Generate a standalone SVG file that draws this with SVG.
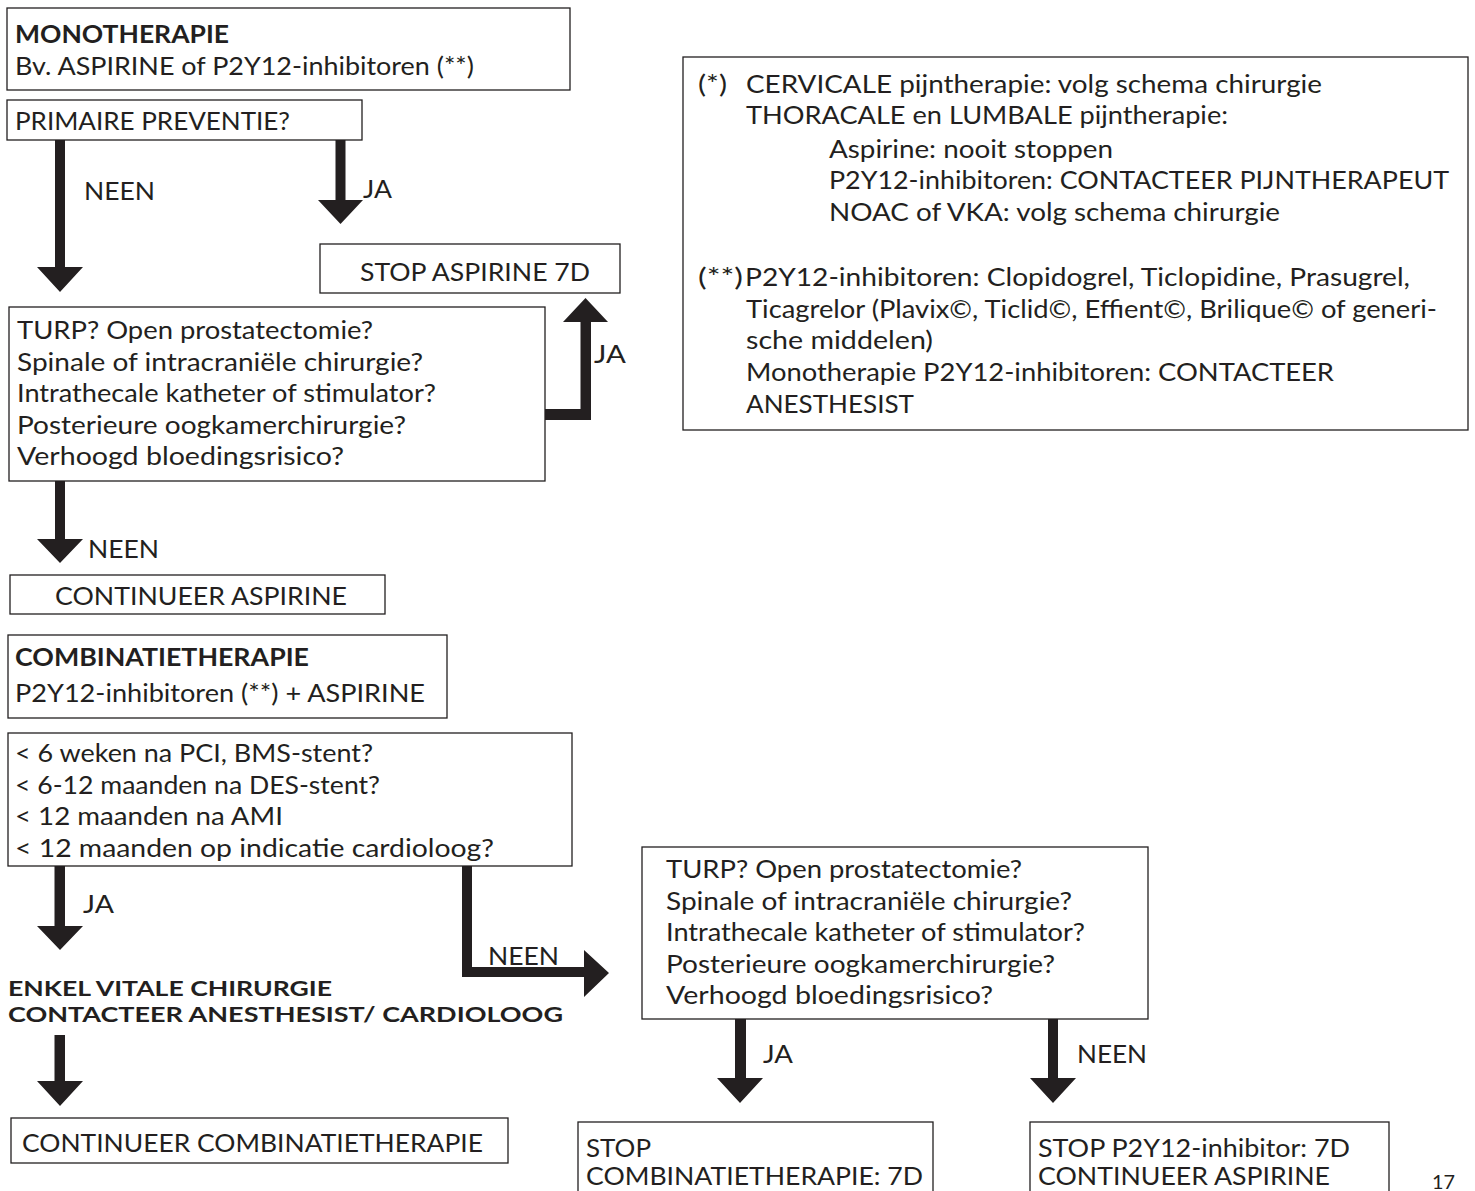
<svg xmlns="http://www.w3.org/2000/svg" width="1475" height="1191" viewBox="0 0 1475 1191">
<style>
.box{fill:#fff;stroke:#231f20;stroke-width:1.3}
.t{font-family:Lato,"Noto Sans","DejaVu Sans",sans-serif;font-size:25px;fill:#231f20}
.b{font-weight:700}
.s{font-size:21px}
.ar{fill:#231f20}
</style>
<rect x="0" y="0" width="1475" height="1191" fill="#fff"/>
<g id="connectors">
<polygon class="ar" points="55,140 65,140 65,267 83,267 60,292 37,267 55,267"/>
<polygon class="ar" points="335.5,140 345.5,140 345.5,200 363,200 340.5,224 318,200 335.5,200"/>
<polygon class="ar" points="545,409 580.5,409 580.5,322 563,322 585.5,298 608,322 591,322 591,420 545,420"/>
<polygon class="ar" points="55,481 65,481 65,539 83,539 60,563 37,539 55,539"/>
<polygon class="ar" points="54.5,866 65,866 65,926 83,926 60,950 37,926 54.5,926"/>
<polygon class="ar" points="462,866 472,866 472,967 584,967 584,950 609,973 584,997 584,977 462,977"/>
<polygon class="ar" points="54.5,1035 65,1035 65,1081 83,1081 60,1106 37,1081 54.5,1081"/>
<polygon class="ar" points="735,1019 746,1019 746,1078 763,1078 740,1103 717,1078 735,1078"/>
<polygon class="ar" points="1048,1019 1058,1019 1058,1078 1076,1078 1053,1103 1030,1078 1048,1078"/>
<text class="t" x="84" y="200" textLength="71" lengthAdjust="spacingAndGlyphs">NEEN</text>
<text class="t" x="363" y="198" textLength="29" lengthAdjust="spacingAndGlyphs">JA</text>
<text class="t" x="594" y="363" textLength="32" lengthAdjust="spacingAndGlyphs">JA</text>
<text class="t" x="88" y="558" textLength="71" lengthAdjust="spacingAndGlyphs">NEEN</text>
<text class="t" x="83" y="913" textLength="31" lengthAdjust="spacingAndGlyphs">JA</text>
<text class="t" x="488" y="965" textLength="71" lengthAdjust="spacingAndGlyphs">NEEN</text>
<text class="t" x="763" y="1063" textLength="30" lengthAdjust="spacingAndGlyphs">JA</text>
<text class="t" x="1077" y="1063" textLength="70" lengthAdjust="spacingAndGlyphs">NEEN</text>
</g>
<g id="monotherapie">
<rect class="box" x="7" y="8" width="563" height="82"/>
<text class="t b" x="15" y="43" textLength="214" lengthAdjust="spacingAndGlyphs">MONOTHERAPIE</text>
<text class="t" x="15" y="75" textLength="459" lengthAdjust="spacingAndGlyphs">Bv. ASPIRINE of P2Y12-inhibitoren (**)</text>
</g>
<g id="primaire">
<rect class="box" x="7" y="100" width="355" height="40"/>
<text class="t" x="15" y="130" textLength="275" lengthAdjust="spacingAndGlyphs">PRIMAIRE PREVENTIE?</text>
</g>
<g id="stop-aspirine">
<rect class="box" x="320" y="244" width="300" height="49"/>
<text class="t" x="360" y="281" textLength="230" lengthAdjust="spacingAndGlyphs">STOP ASPIRINE 7D</text>
</g>
<g id="turp1">
<rect class="box" x="9" y="307" width="536" height="174"/>
<text class="t" x="17" y="339" textLength="356" lengthAdjust="spacingAndGlyphs">TURP? Open prostatectomie?</text>
<text class="t" x="17" y="370.5" textLength="406" lengthAdjust="spacingAndGlyphs">Spinale of intracraniële chirurgie?</text>
<text class="t" x="17" y="402" textLength="419" lengthAdjust="spacingAndGlyphs">Intrathecale katheter of stimulator?</text>
<text class="t" x="17" y="433.5" textLength="389" lengthAdjust="spacingAndGlyphs">Posterieure oogkamerchirurgie?</text>
<text class="t" x="17" y="465" textLength="327" lengthAdjust="spacingAndGlyphs">Verhoogd bloedingsrisico?</text>
</g>
<g id="continueer-aspirine">
<rect class="box" x="10" y="575" width="375" height="39"/>
<text class="t" x="55" y="605" textLength="292" lengthAdjust="spacingAndGlyphs">CONTINUEER ASPIRINE</text>
</g>
<g id="combinatietherapie">
<rect class="box" x="8" y="635" width="439" height="83"/>
<text class="t b" x="15" y="666" textLength="294" lengthAdjust="spacingAndGlyphs">COMBINATIETHERAPIE</text>
<text class="t" x="15" y="702" textLength="410" lengthAdjust="spacingAndGlyphs">P2Y12-inhibitoren (**) + ASPIRINE</text>
</g>
<g id="condities">
<rect class="box" x="8" y="733" width="564" height="133"/>
<text class="t" x="15" y="762" textLength="358" lengthAdjust="spacingAndGlyphs">&lt; 6 weken na PCI, BMS-stent?</text>
<text class="t" x="15" y="793.5" textLength="365" lengthAdjust="spacingAndGlyphs">&lt; 6-12 maanden na DES-stent?</text>
<text class="t" x="15" y="825" textLength="268" lengthAdjust="spacingAndGlyphs">&lt; 12 maanden na AMI</text>
<text class="t" x="15" y="856.5" textLength="479" lengthAdjust="spacingAndGlyphs">&lt; 12 maanden op indicatie cardioloog?</text>
</g>
<g id="enkel-vitale">
<text class="t b s" x="8" y="996" textLength="324" lengthAdjust="spacingAndGlyphs">ENKEL VITALE CHIRURGIE</text>
<text class="t b s" x="8" y="1022" textLength="555" lengthAdjust="spacingAndGlyphs">CONTACTEER ANESTHESIST/ CARDIOLOOG</text>
</g>
<g id="turp2">
<rect class="box" x="642" y="847" width="506" height="172"/>
<text class="t" x="666" y="878" textLength="356" lengthAdjust="spacingAndGlyphs">TURP? Open prostatectomie?</text>
<text class="t" x="666" y="909.5" textLength="406" lengthAdjust="spacingAndGlyphs">Spinale of intracraniële chirurgie?</text>
<text class="t" x="666" y="941" textLength="419" lengthAdjust="spacingAndGlyphs">Intrathecale katheter of stimulator?</text>
<text class="t" x="666" y="972.5" textLength="389" lengthAdjust="spacingAndGlyphs">Posterieure oogkamerchirurgie?</text>
<text class="t" x="666" y="1004" textLength="327" lengthAdjust="spacingAndGlyphs">Verhoogd bloedingsrisico?</text>
</g>
<g id="continueer-combinatie">
<rect class="box" x="11" y="1118" width="497" height="45"/>
<text class="t" x="22" y="1152" textLength="461" lengthAdjust="spacingAndGlyphs">CONTINUEER COMBINATIETHERAPIE</text>
</g>
<g id="stop-combinatie">
<rect class="box" x="578" y="1122" width="355" height="90"/>
<text class="t" x="586" y="1157" textLength="65" lengthAdjust="spacingAndGlyphs">STOP</text>
<text class="t" x="586" y="1185" textLength="337" lengthAdjust="spacingAndGlyphs">COMBINATIETHERAPIE: 7D</text>
</g>
<g id="stop-p2y12">
<rect class="box" x="1030" y="1122" width="359" height="90"/>
<text class="t" x="1038" y="1157" textLength="312" lengthAdjust="spacingAndGlyphs">STOP P2Y12-inhibitor: 7D</text>
<text class="t" x="1038" y="1185" textLength="292" lengthAdjust="spacingAndGlyphs">CONTINUEER ASPIRINE</text>
</g>
<g id="voetnoten">
<rect class="box" x="683" y="57" width="785" height="373"/>
<text class="t" x="698" y="92.5" textLength="29" lengthAdjust="spacingAndGlyphs">(*)</text>
<text class="t" x="746" y="92.5" textLength="576" lengthAdjust="spacingAndGlyphs">CERVICALE pijntherapie: volg schema chirurgie</text>
<text class="t" x="746" y="123.5" textLength="482" lengthAdjust="spacingAndGlyphs">THORACALE en LUMBALE pijntherapie:</text>
<text class="t" x="829" y="157.5" textLength="284" lengthAdjust="spacingAndGlyphs">Aspirine: nooit stoppen</text>
<text class="t" x="829" y="188.5" textLength="620" lengthAdjust="spacingAndGlyphs">P2Y12-inhibitoren: CONTACTEER PIJNTHERAPEUT</text>
<text class="t" x="829" y="220.5" textLength="451" lengthAdjust="spacingAndGlyphs">NOAC of VKA: volg schema chirurgie</text>
<text class="t" x="698" y="285.5" textLength="45" lengthAdjust="spacingAndGlyphs">(**)</text>
<text class="t" x="745" y="285.5" textLength="665" lengthAdjust="spacingAndGlyphs">P2Y12-inhibitoren: Clopidogrel, Ticlopidine, Prasugrel,</text>
<text class="t" x="746" y="317.5" textLength="691" lengthAdjust="spacingAndGlyphs">Ticagrelor (Plavix©, Ticlid©, Effient©, Brilique© of generi-</text>
<text class="t" x="746" y="348.5" textLength="187" lengthAdjust="spacingAndGlyphs">sche middelen)</text>
<text class="t" x="746" y="380.5" textLength="588" lengthAdjust="spacingAndGlyphs">Monotherapie P2Y12-inhibitoren: CONTACTEER</text>
<text class="t" x="746" y="412.5" textLength="168" lengthAdjust="spacingAndGlyphs">ANESTHESIST</text>
</g>
<g id="paginanummer">
<text class="t" x="1432" y="1189" style="font-size:20px" textLength="23" lengthAdjust="spacingAndGlyphs">17</text>
</g>
</svg>
